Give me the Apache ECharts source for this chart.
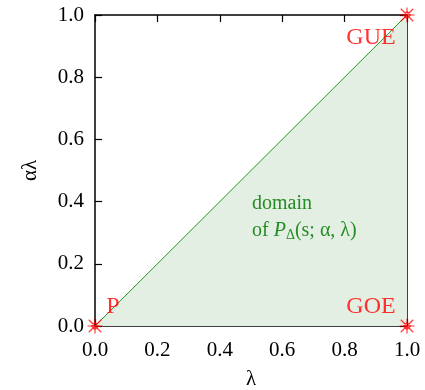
<!DOCTYPE html>
<html><head><meta charset="utf-8">
<script src="https://cdn.jsdelivr.net/npm/echarts@6/dist/echarts.min.js"></script>
<style>html,body{margin:0;padding:0;background:#fff}#c{width:425px;height:390px}</style>
</head><body><div id="c"></div>
<script>
const xName = 'λ';
const yName = 'αλ';
const diagonalX = [0, 1];
const diagonalY = [0, 1];
const cornerX = [0, 1, 1];
const cornerY = [0, 0, 1];
const cornerLabels = ['P', 'GOE', 'GUE'];
const domainLine1 = 'domain';

const FONT = '"Liberation Serif","DejaVu Serif",serif';
const chart = echarts.init(document.getElementById('c'), null, {renderer: 'canvas'});
const labelOffsets = [[18, -19], [-36, -19], [-36, 23]];
const markerPath = 'path://M0,0L10,10M10,0L0,10M5,-1L5,11M-1,5L11,5M5,2L8,5L5,8L2,5Z';

const axisBase = {
  type: 'value', min: 0, max: 1, interval: 0.2,
  splitLine: {show: false},
  axisLine: {show: true, onZero: false, lineStyle: {color: '#000', width: 1.5}},
  axisTick: {show: true, inside: true, length: 7, lineStyle: {color: '#000', width: 1.2}}
};

chart.setOption({
  animation: false,
  grid: {left: 95, top: 15, width: 312, height: 311, outerBoundsMode: 'none', containLabel: false},
  xAxis: [
    Object.assign({}, axisBase, {
      position: 'bottom', name: xName, nameLocation: 'middle', nameGap: 43,
      nameTextStyle: {fontFamily: FONT, fontSize: 21, color: '#000'},
      axisLabel: {fontFamily: FONT, fontSize: 21, color: '#000', margin: 14,
        formatter: v => v.toFixed(1)}
    }),
    Object.assign({}, axisBase, {position: 'top', axisLabel: {show: false}})
  ],
  yAxis: [
    Object.assign({}, axisBase, {
      position: 'left', name: yName, nameLocation: 'middle', nameGap: 54,
      nameTextStyle: {fontFamily: FONT, fontSize: 21, color: '#000'},
      axisLabel: {fontFamily: FONT, fontSize: 21, color: '#000', margin: 11,
        formatter: v => v.toFixed(1)}
    }),
    Object.assign({}, axisBase, {position: 'right', axisLabel: {show: false}})
  ],
  graphic: [{
    type: 'text', left: 252, top: 190, z: 10,
    style: {
      text: domainLine1 + '\n{n|of }{p|P}{s|Δ}{n|(s; α, λ)}',
      fill: '#238c23', font: '20px ' + FONT, lineHeight: 27,
      rich: {
        n: {fontFamily: FONT, fontSize: 20, fill: '#238c23'},
        p: {fontFamily: FONT, fontSize: 20, fontStyle: 'italic', fill: '#238c23'},
        s: {fontFamily: FONT, fontSize: 14, fill: '#238c23', padding: [10, 0, 0, 0]}
      }
    }
  }],
  series: [
    {
      type: 'line', xAxisIndex: 0, yAxisIndex: 0, z: 3,
      data: diagonalX.map((x, i) => [x, diagonalY[i]]),
      showSymbol: false, symbol: 'none',
      lineStyle: {color: '#1f9a1f', width: 1},
      areaStyle: {color: '#e3efe3', opacity: 1, origin: 'start'}
    },
    {
      type: 'scatter', xAxisIndex: 0, yAxisIndex: 0, z: 5,
      symbol: markerPath, symbolSize: 15,
      itemStyle: {color: 'none', borderColor: '#ff0000', borderWidth: 1.1},
      data: cornerX.map((x, i) => ({
        value: [x, cornerY[i]],
        label: {show: true, position: 'inside', offset: labelOffsets[i],
          formatter: cornerLabels[i], fontFamily: FONT, fontSize: 24, color: '#ff0000'}
      }))
    }
  ]
});
</script>
</body></html>
